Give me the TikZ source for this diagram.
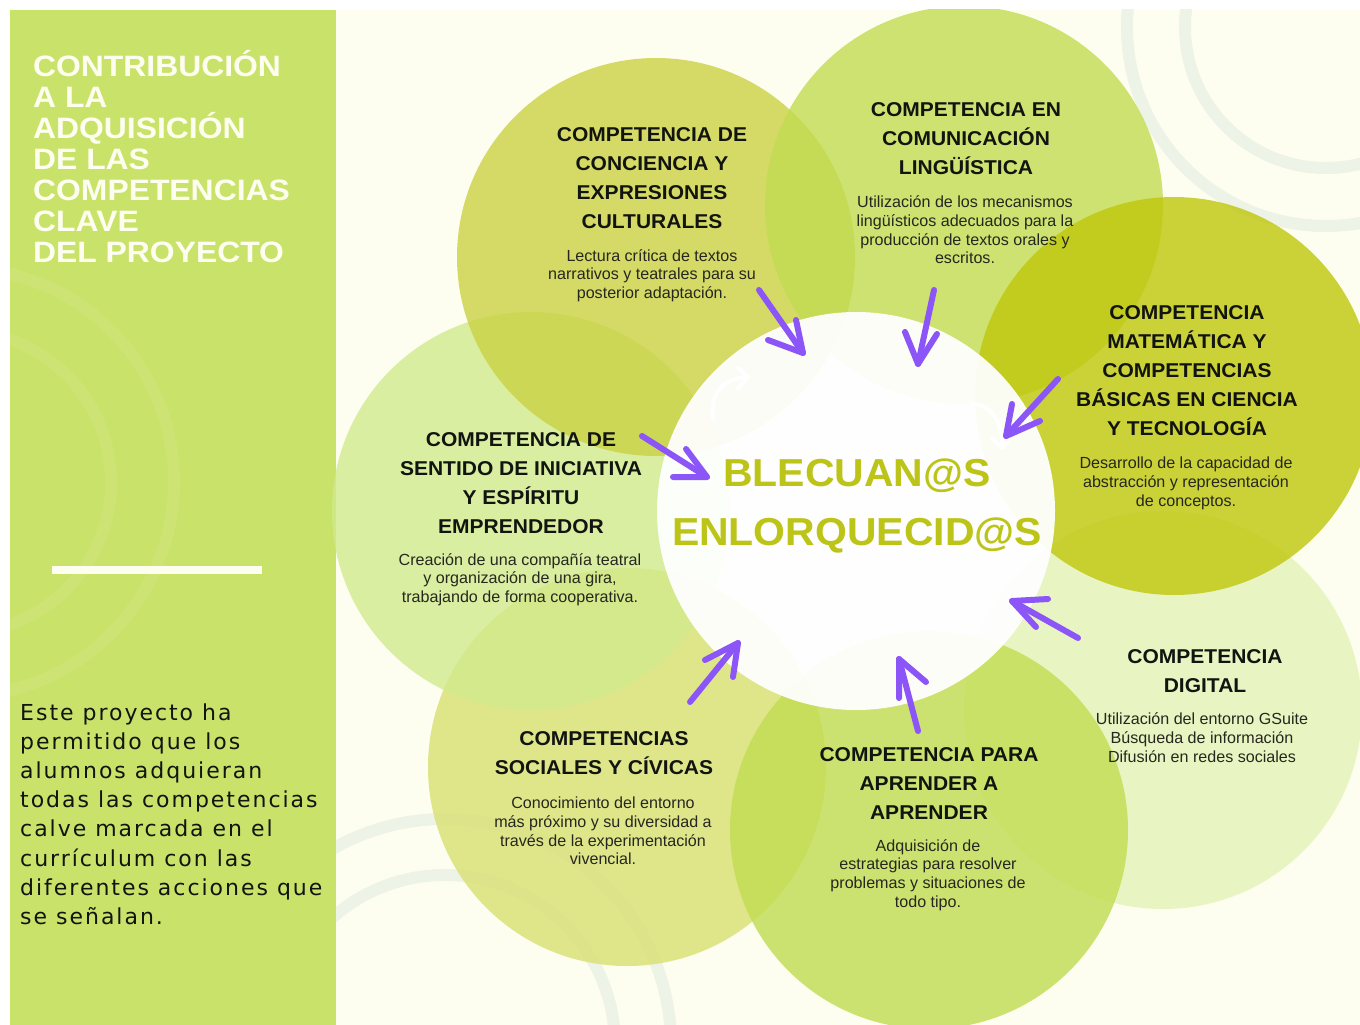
\documentclass[tikz,border=0pt]{standalone}
\usepackage{fontspec}
\setmainfont{Liberation Sans}
\newfontfamily\hfont{Liberation Sans}[FakeStretch=1.05]
\newfontfamily\tfont{Liberation Sans}[FakeStretch=1.08]
\newfontfamily\bodyfont{DejaVu Sans}[LetterSpace=9]
\definecolor{cream}{HTML}{FDFEF0}
\definecolor{panel}{HTML}{C9E26A}
\definecolor{panelarc}{HTML}{CDE475}
\definecolor{bgarc}{HTML}{EDF3E6}
\definecolor{cConc}{HTML}{CBD244}
\definecolor{cComu}{HTML}{C1DC51}
\definecolor{cMate}{HTML}{BFC70A}
\definecolor{cDigi}{HTML}{E3F3B7}
\definecolor{cApre}{HTML}{C0DC50}
\definecolor{cSoci}{HTML}{D8E071}
\definecolor{cInic}{HTML}{D0EA8C}
\definecolor{arrowpurple}{HTML}{8B55F7}
\definecolor{centertext}{HTML}{BCC417}
\definecolor{headtext}{HTML}{121410}
\definecolor{desctext}{HTML}{26271E}
\begin{document}
\begin{tikzpicture}[x=1pt,y=-1pt,
  bubble/.style={fill=#1,fill opacity=0.8},
  headlabel/.style={align=center,text=headtext,inner sep=0pt,
    font=\hfont\bfseries\fontsize{20}{29}\selectfont},
  desclabel/.style={align=center,text=desctext,inner sep=0pt,
    font=\fontsize{16.1}{18.7}\selectfont},
  purplearrow/.style={draw=arrowpurple,line width=6pt,line cap=round,line join=round},
  faintarrow/.style={draw=white,line width=4pt,line cap=round,line join=round}]
\useasboundingbox (0,0) rectangle (1360,1025);
\fill[white] (0,0) rectangle (1360,1025);
\begin{scope}
\clip (10,10) rectangle (1360,1025);
\fill[cream] (10,10) rectangle (1360,1025);
% decorative arcs on background
\draw[bgarc,line width=12pt] (1326,27) circle[radius=199];
\draw[bgarc,line width=12pt] (1326,27) circle[radius=141];
\draw[bgarc,line width=12pt] (445,1045) circle[radius=170];
\draw[bgarc,line width=12pt] (445,1045) circle[radius=226];
% left panel
\fill[panel] (10,10) rectangle (336,1025);
\begin{scope}
\clip (10,10) rectangle (336,1025);
\draw[panelarc,line width=12pt] (-40,482) circle[radius=151];
\draw[panelarc,line width=12pt] (-40,482) circle[radius=214];
\end{scope}
% competence circles
\fill[bubble=cDigi] (1163,710) circle[radius=199];
\fill[bubble=cSoci] (627,767) circle[radius=199];
\fill[bubble=cInic] (531,511) circle[radius=199];
\fill[bubble=cConc] (656,257) circle[radius=199];
\fill[bubble=cComu] (964,205) circle[radius=199];
\fill[bubble=cMate] (1174,396) circle[radius=199];
\fill[bubble=cApre] (929,830) circle[radius=199];
% center circle
\fill[white,fill opacity=0.94] (856,511) circle[radius=199];
\end{scope}
% faint white arrows inside the center
\coordinate (w1s) at (713,418); \coordinate (w1e) at (748,377);
\draw[faintarrow] (w1s) .. controls (710,392) and (724,378) .. (w1e);
\draw[faintarrow] (738,368) -- (w1e) -- (738,388);
\coordinate (w2s) at (972,404); \coordinate (w2e) at (1002,448);
\draw[faintarrow] (w2s) .. controls (992,404) and (1004,425) .. (w2e);
\draw[faintarrow] (992,438) -- (w2e) -- (1010,437);
% white bar
\draw[cream,line width=8pt] (52,570) -- (262,570);
% title
\node[anchor=west,align=left,inner sep=0pt,text=cream,
  font=\tfont\bfseries\fontsize{29.5}{31}\selectfont] (title) at (33,157)
  {CONTRIBUCIÓN\\A LA\\ADQUISICIÓN\\DE LAS\\COMPETENCIAS\\CLAVE\\DEL PROYECTO};
\node[anchor=west,align=left,inner sep=0pt,text=headtext,
  font=\bodyfont\fontsize{22}{29.2}\selectfont] (summary) at (20,814)
  {Este proyecto ha\\permitido que los\\alumnos adquieran\\todas las competencias\\calve marcada en el\\currículum con las\\diferentes acciones que\\se señalan.};
% center text
\node[inner sep=0pt,text=centertext,font=\hfont\bfseries\fontsize{39}{46}\selectfont] (blecuan) at (857,476) {BLECUAN@S};
\node[inner sep=0pt,text=centertext,font=\hfont\bfseries\fontsize{39}{46}\selectfont] (enlorq) at (857,535) {ENLORQUECID@S};
% circle texts
\node[headlabel] (concH) at (652,178) {COMPETENCIA DE\\CONCIENCIA Y\\EXPRESIONES\\CULTURALES};
\node[desclabel] (concD) at (652,275.5) {Lectura crítica de textos\\narrativos y teatrales para su\\posterior adaptación.};
\node[headlabel] (comuH) at (966,138.5) {COMPETENCIA EN\\COMUNICACIÓN\\LINGÜÍSTICA};
\node[desclabel] (comuD) at (965,230) {Utilización de los mecanismos\\lingüísticos adecuados para la\\producción de textos orales y\\escritos.};
\node[headlabel] (mateH) at (1187,370.5) {COMPETENCIA\\MATEMÁTICA Y\\COMPETENCIAS\\BÁSICAS EN CIENCIA\\Y TECNOLOGÍA};
\node[desclabel] (mateD) at (1186,483.5) {Desarrollo de la capacidad de\\abstracción y representación\\de conceptos.};
\node[headlabel] (digiH) at (1205,671) {COMPETENCIA\\DIGITAL};
\node[desclabel] (digiD) at (1202,737.5) {Utilización del entorno GSuite\\Búsqueda de información\\Difusión en redes sociales};
\node[headlabel] (apreH) at (929,783.5) {COMPETENCIA PARA\\APRENDER A\\APRENDER};
\node[desclabel] (apreD) at (928,875) {Adquisición de\\estrategias para resolver\\problemas y situaciones de\\todo tipo.};
\node[headlabel] (sociH) at (604,753) {COMPETENCIAS\\SOCIALES Y CÍVICAS};
\node[desclabel] (sociD) at (603,831) {Conocimiento del entorno\\más próximo y su diversidad a\\través de la experimentación\\vivencial.};
\node[headlabel] (inicH) at (521,483) {COMPETENCIA DE\\SENTIDO DE INICIATIVA\\Y ESPÍRITU\\EMPRENDEDOR};
\node[desclabel] (inicD) at (520,579.5) {Creación de una compañía teatral\\y organización de una gira,\\trabajando de forma cooperativa.};
% purple arrows
\coordinate (a1t) at (759,290); \coordinate (a1h) at (803,353);
\draw[purplearrow] (a1t) -- (a1h);
\draw[purplearrow] (768,340) -- (a1h) -- (796,320);
\coordinate (a2t) at (934,290); \coordinate (a2h) at (918,364);
\draw[purplearrow] (a2t) -- (a2h);
\draw[purplearrow] (905,332) -- (a2h) -- (937,334);
\coordinate (a3t) at (1058,379); \coordinate (a3h) at (1006,436);
\draw[purplearrow] (a3t) -- (a3h);
\draw[purplearrow] (1012,404) -- (a3h) -- (1040,421);
\coordinate (a4t) at (642,436); \coordinate (a4h) at (707,477);
\draw[purplearrow] (a4t) -- (a4h);
\draw[purplearrow] (686,449) -- (a4h) -- (673,477);
\coordinate (a5t) at (1078,638); \coordinate (a5h) at (1012,601);
\draw[purplearrow] (a5t) -- (a5h);
\draw[purplearrow] (1048,599) -- (a5h) -- (1036,627);
\coordinate (a6t) at (918,731); \coordinate (a6h) at (899,659);
\draw[purplearrow] (a6t) -- (a6h);
\draw[purplearrow] (899,698) -- (a6h) -- (926,682);
\coordinate (a7t) at (690,702); \coordinate (a7h) at (738,643);
\draw[purplearrow] (a7t) -- (a7h);
\draw[purplearrow] (705,660) -- (a7h) -- (733,677);
\end{tikzpicture}
\end{document}
